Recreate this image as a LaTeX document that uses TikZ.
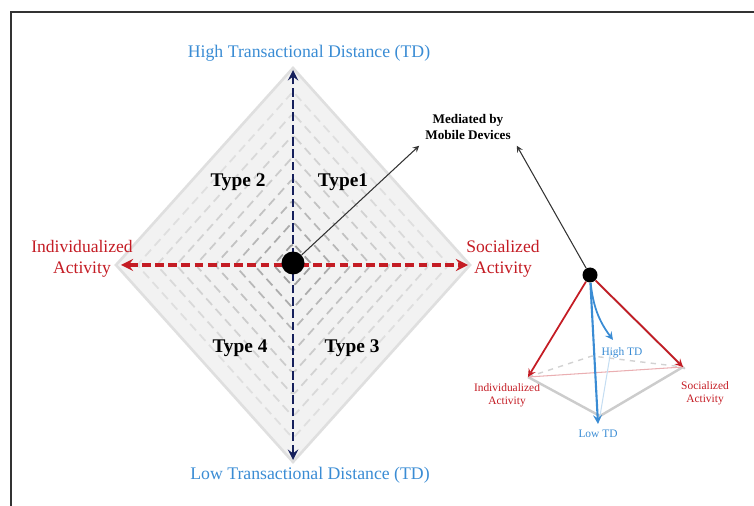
\documentclass[tikz,border=0pt]{standalone}
\usepackage{fontspec}
\setmainfont{Liberation Serif}
\definecolor{tdblue}{RGB}{58,140,212}
\definecolor{actred}{RGB}{196,28,36}
\definecolor{axnavy}{RGB}{22,32,92}
\tikzset{
  axlabel/.style={text=tdblue, font=\fontsize{10.1}{12}\selectfont},
  actlabel/.style={text=actred, align=center, font=\fontsize{10}{12}\selectfont},
  typelabel/.style={font=\bfseries\fontsize{11}{13}\selectfont},
  smalllabel/.style={align=center, font=\fontsize{6.5}{7.5}\selectfont},
  hubdot/.style={circle, fill=black, inner sep=0pt},
}
\begin{document}
\begin{tikzpicture}[>=stealth, x=0.02cm, y=-0.02cm]
        \useasboundingbox (0,0) rectangle (754,506);
        \draw[line width=1.2pt, black!80] (11,506) -- (11,12) -- (754,12);

        \filldraw[fill=gray!10, draw=gray!25, line width=1.5pt] (293,68) -- (470,265) -- (293,462) -- (116,265) -- cycle;
        \foreach \f/\g in {0.88/25,0.77/30,0.66/35,0.55/40,0.44/48,0.33/56,0.22/65,0.11/75}
          \draw[gray!\g, line width=1pt, dash pattern=on 5pt off 3pt, rounded corners=2pt]
            (293,265) +(0,-197*\f) -- +(177*\f,0) -- +(0,197*\f) -- +(-177*\f,0) -- cycle;

        \coordinate (htop) at (293,70);
        \coordinate (hbot) at (293,460);
        \coordinate (aleft) at (121,265);
        \coordinate (aright) at (468,265);

        \draw[<->, axnavy, line width=1.6pt, dash pattern=on 5pt off 2pt] (hbot) -- (htop);
        \draw[<->, actred, line width=2pt, dash pattern=on 5pt off 2.5pt] (aleft) -- (aright);

        \node[hubdot, minimum size=0.46cm] (hub) at (293,263) {};

        \node[axlabel] (high) at (309,53) {High Transactional Distance (TD)};
        \node[axlabel] (low) at (310,475) {Low Transactional Distance (TD)};
        \node[actlabel] (indiv) at (82,259) {Individualized\\Activity};
        \node[actlabel] (social) at (503,259) {Socialized\\Activity};

        \node[typelabel] (t2) at (238,182) {Type 2};
        \node[typelabel] (t1) at (343,182) {Type1};
        \node[typelabel] (t4) at (240,348) {Type 4};
        \node[typelabel] (t3) at (352,348) {Type 3};

        \node[font=\bfseries\fontsize{7.5}{9}\selectfont, align=center] (med) at (468,127) {Mediated by\\Mobile Devices};
        \node[hubdot, minimum size=0.3cm] (apex) at (590,275) {};

        \draw[->, gray!40!black, line width=0.6pt] (hub) -- (med.south west);
        \draw[<-, gray!40!black, line width=0.6pt] (med.south east) -- (apex);

        \coordinate (pl) at (528,377);
        \coordinate (pr) at (683,367);
        \coordinate (pb) at (600,416);
        \coordinate (pk) at (592,356);
        \coordinate (pt) at (611,350);
        \coordinate (ptop) at (613,340);

        \node[smalllabel, text=actred] (indl) at (507,395) {Individualized\\Activity};
        \node[smalllabel, text=actred] (socl) at (705,393) {Socialized\\Activity};
        \node[smalllabel, text=tdblue] (hightd) at (622,353) {High TD};
        \node[smalllabel, text=tdblue] (lowtd) at (598,434) {Low TD};

        \draw[gray!40, line width=1.4pt] (pl) -- (pb) -- (pr);
        \draw[gray!40, line width=1.2pt] ([xshift=1pt,yshift=-1pt]apex.south east) -- ([xshift=1pt,yshift=-1pt]pr);
        \draw[gray!35, dashed, line width=0.8pt] (pl) -- (pk) -- (pr);
        \draw[actred!35, line width=0.6pt] (pl) -- (pr);
        \draw[tdblue!30, line width=0.6pt] (pb) -- (pt);

        \draw[->, actred, line width=1pt] (apex) -- (pl);
        \draw[->, actred, line width=1pt] (apex) -- (pr);
        \draw[->, tdblue, line width=1.2pt] (apex) -- (lowtd.north);
        \draw[->, tdblue, line width=1pt] (apex) to[bend right=15] (ptop);

\end{tikzpicture}
\end{document}
